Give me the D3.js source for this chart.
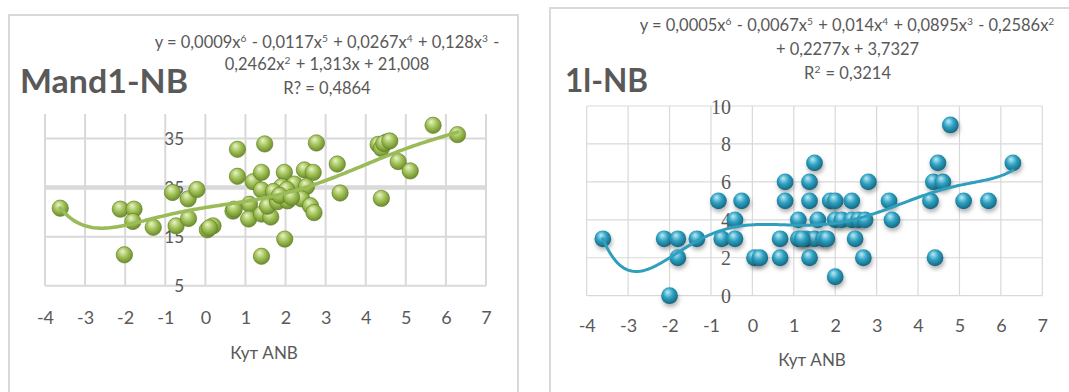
<!DOCTYPE html>
<html>
<head>
<meta charset="utf-8">
<script src="https://cdn.jsdelivr.net/npm/d3@7"></script>
<style>
  body { margin: 0; background: #fff; }
  text { font-family: Lato, "Open Sans", sans-serif; fill: #595959; }
</style>
</head>
<body>
<svg id="chart" width="1069" height="392"></svg>
<script>
// values
const xTicks = [-4, -3, -2, -1, 0, 1, 2, 3, 4, 5, 6, 7];

const mandX = [-3.62, -2.12, -1.78, -1.81, -2.02, -1.30, -0.73, -0.82, -0.43, -0.21, -0.42, 0.05, 0.19,
  0.80, 0.80, 0.69, 1.10, 1.08, 1.19, 1.40, 1.48, 1.40, 1.40, 1.63, 1.55, 1.40, 1.97, 1.98, 1.90, 1.80,
  2.05, 2.22, 2.47, 2.69, 2.52, 2.40, 2.62, 2.71, 2.77, 3.29, 3.36, 4.31, 4.52, 4.39, 4.39, 4.81, 5.11,
  5.68, 6.29, 1.70, 2.03, 1.85, 2.15, 4.45, 4.60, 0.72, 0.10];
const mandY = [20.8, 20.6, 20.6, 18.1, 11.3, 16.9, 17.2, 24.0, 22.7, 24.6, 18.7, 16.4, 17.2,
  32.8, 27.3, 20.2, 21.6, 18.6, 26.2, 28.1, 33.9, 11.0, 19.6, 19.0, 21.2, 24.5, 28.1, 14.5, 25.2, 22.1,
  22.3, 25.7, 28.6, 28.1, 25.2, 22.7, 21.3, 19.9, 34.1, 29.8, 23.9, 33.8, 34.3, 33.0, 22.8, 30.3, 28.4,
  37.7, 35.8, 24.2, 24.6, 23.4, 23.0, 34.0, 34.5, 20.6, 16.8];
const mandYTicks = [5, 15, 25, 35];

const ilX = [-3.61, -2.13, -1.80, -1.80, -2.00, -1.34, -0.82, -0.26, -0.42, -0.74, -0.42, 0.05, 0.18,
  0.67, 0.67, 0.79, 0.79, 1.11, 1.11, 1.30, 1.50, 1.72, 1.38, 1.38, 1.38, 1.50, 1.58, 1.88, 2.00, 2.00,
  2.16, 2.00, 2.40, 2.40, 2.56, 2.72, 2.48, 2.68, 2.80, 3.30, 3.37, 4.30, 4.37, 4.60, 4.48, 4.78, 4.41,
  5.10, 5.70, 6.29, 1.20, 1.80];
const ilY = [3, 3, 3, 2, 0, 3, 5, 5, 4, 3, 3, 2, 2,
  3, 2, 6, 5, 4, 3, 3, 3, 3, 6, 5, 2, 7, 4, 5, 5, 4,
  4, 1, 5, 4, 4, 4, 3, 2, 6, 5, 4, 5, 6, 6, 7, 9, 2,
  5, 5, 7, 3, 3];
const ilYTicks = [0, 2, 4, 6, 8, 10];

const svg = d3.select('#chart');
const defs = svg.append('defs');

function sphere(id, c0, c1, c2) {
  const g = defs.append('radialGradient').attr('id', id)
    .attr('cx', '45%').attr('cy', '40%').attr('r', '60%')
    .attr('fx', '38%').attr('fy', '28%');
  g.append('stop').attr('offset', '0%').attr('stop-color', c0);
  g.append('stop').attr('offset', '50%').attr('stop-color', c1);
  g.append('stop').attr('offset', '100%').attr('stop-color', c2);
}
sphere('ballGreen', '#eaf3cc', '#a4c45a', '#6c8b2c');
sphere('ballBlue', '#bfeaf5', '#2ea2c3', '#17657e');

const shadow = defs.append('filter').attr('id', 'shadow')
  .attr('x', '-50%').attr('y', '-50%').attr('width', '200%').attr('height', '200%');
shadow.append('feDropShadow').attr('dx', 1).attr('dy', 3).attr('stdDeviation', 2)
  .attr('flood-color', '#000').attr('flood-opacity', 0.3);

// least squares polynomial, like the Excel trendline
function polyfit(xs, ys, deg) {
  const m = d3.mean(xs), s = d3.deviation(xs);
  const n = deg + 1;
  const A = [], b = [];
  for (let i = 0; i < n; i++) { A.push(new Array(n).fill(0)); b.push(0); }
  xs.forEach((x, k) => {
    const t = (x - m) / s;
    for (let i = 0; i < n; i++) {
      b[i] += ys[k] * Math.pow(t, i);
      for (let j = 0; j < n; j++) A[i][j] += Math.pow(t, i + j);
    }
  });
  for (let c = 0; c < n; c++) {
    let p = c;
    for (let r = c + 1; r < n; r++) if (Math.abs(A[r][c]) > Math.abs(A[p][c])) p = r;
    [A[c], A[p]] = [A[p], A[c]]; [b[c], b[p]] = [b[p], b[c]];
    for (let r = c + 1; r < n; r++) {
      const f = A[r][c] / A[c][c];
      for (let j = c; j < n; j++) A[r][j] -= f * A[c][j];
      b[r] -= f * b[c];
    }
  }
  const coef = new Array(n).fill(0);
  for (let r = n - 1; r >= 0; r--) {
    let v = b[r];
    for (let j = r + 1; j < n; j++) v -= A[r][j] * coef[j];
    coef[r] = v / A[r][r];
  }
  return x => { const t = (x - m) / s; return coef.reduce((acc, c, i) => acc + c * Math.pow(t, i), 0); };
}

// text with ^n superscripts
function richText(g, str, x, y, size) {
  const t = g.append('text').attr('x', x).attr('y', y).attr('text-anchor', 'middle')
    .style('font-size', size + 'px');
  str.split(/(\^\d)/).forEach(part => {
    if (!part) return;
    if (part[0] === '^') {
      t.append('tspan').attr('dy', -6).style('font-size', (size * 0.62) + 'px').text(part.slice(1));
      t.append('tspan').attr('dy', 6).text('\u200a');
    } else {
      t.append('tspan').text(part);
    }
  });
  return t;
}

function drawPanel(o) {
  const g = svg.append('g');
  g.append('rect').attr('x', o.box[0]).attr('y', o.box[1]).attr('width', o.box[2]).attr('height', o.box[3])
    .attr('fill', '#fff').attr('stroke', '#d9d9d9').attr('stroke-width', 2);

  const x = d3.scaleLinear().domain([-4, 7]).range(o.xr);
  const y = d3.scaleLinear().domain(o.yd).range(o.yr);

  // grid
  g.append('g').selectAll('line').data(xTicks).join('line')
    .attr('x1', d => x(d)).attr('x2', d => x(d)).attr('y1', o.yr[0]).attr('y2', o.yr[1])
    .attr('stroke', '#d9d9d9').attr('stroke-width', o.gridW);
  g.append('g').selectAll('line').data(o.yTicks).join('line')
    .attr('x1', o.xr[0]).attr('x2', o.xr[1]).attr('y1', d => y(d)).attr('y2', d => y(d))
    .attr('stroke', '#d9d9d9').attr('stroke-width', d => d === o.thickAt ? 4.5 : o.gridW);

  // tick labels via d3 axes, no domain/tick lines
  const xa = g.append('g').attr('transform', `translate(0,${o.xLabelY})`)
    .call(d3.axisBottom(x).tickValues(xTicks).tickSize(0).tickFormat(d => String(d)));
  xa.select('.domain').remove();
  xa.selectAll('text').attr('dy', 0).attr('y', 0).style('font-size', '18px')
    .style('font-family', 'Lato, sans-serif').attr('fill', '#595959');

  const ya = g.append('g').attr('transform', `translate(${o.yLabelX},0)`)
    .call(d3.axisLeft(y).tickValues(o.yTicks).tickSize(0).tickPadding(0).tickFormat(d => String(d)));
  ya.select('.domain').remove();
  ya.selectAll('text').style('font-size', o.yFont.size + 'px').style('font-family', o.yFont.family)
    .attr('fill', '#595959').attr('dy', '0.35em');

  // points
  const pts = o.xs.map((v, i) => [v, o.ys[i]]);
  g.append('g').selectAll('circle').data(pts).join('circle')
    .attr('cx', d => x(d[0])).attr('cy', d => y(d[1])).attr('r', o.r)
    .attr('fill', `url(#${o.ball})`)
    .attr('stroke', o.ballStroke).attr('stroke-width', 0.6)
    .attr('filter', o.shadow ? 'url(#shadow)' : null);

  // trendline
  const f = polyfit(o.xs, o.ys, 6);
  const x0 = d3.min(o.xs), x1 = d3.max(o.xs);
  const xsLine = d3.range(0, 201).map(i => x0 + (x1 - x0) * i / 200);
  g.append('path').datum(xsLine)
    .attr('d', d3.line().x(d => x(d)).y(d => y(f(d))))
    .attr('fill', 'none').attr('stroke', o.lineColor).attr('stroke-width', o.lineW)
    .attr('stroke-linecap', 'round');

  // title
  g.append('text').attr('x', o.title.x).attr('y', o.title.y).text(o.title.text)
    .style('font-size', '32px').style('font-weight', 'bold')
    .attr('textLength', o.title.w).attr('lengthAdjust', 'spacingAndGlyphs');

  // equation
  o.eq.forEach((line, i) => richText(g, line, o.eqX, o.eqY[i], 16.5));

  g.append('text').attr('x', o.axTitle[0]).attr('y', o.axTitle[1]).attr('text-anchor', 'middle')
    .style('font-size', '17px').text('Кут ANB');
}

drawPanel({
  box: [9, 15, 509, 400],
  xr: [45, 486], yd: [5, 40], yr: [285.7, 114],
  yTicks: mandYTicks, thickAt: 25, gridW: 2,
  xLabelY: 324, yLabelX: 184,
  yFont: { size: 17, family: 'Lato, sans-serif' },
  xs: mandX, ys: mandY, r: 8.2, ball: 'ballGreen', ballStroke: '#5d7d22', shadow: false,
  lineColor: '#9bbb59', lineW: 3.6,
  title: { x: 20, y: 93, text: 'Mand1-NB', w: 168 },
  eq: ['y = 0,0009x^6 - 0,0117x^5 + 0,0267x^4 + 0,128x^3 -', '0,2462x^2 + 1,313x + 21,008', 'R? = 0,4864'],
  eqX: 327, eqY: [47.5, 69.5, 93.5],
  axTitle: [264, 359]
});

drawPanel({
  box: [550, 8, 530, 400],
  xr: [586.7, 1042.3], yd: [0, 10], yr: [295.7, 106],
  yTicks: ilYTicks, thickAt: null, gridW: 1.2,
  xLabelY: 332, yLabelX: 731,
  yFont: { size: 20, family: '"Liberation Serif", serif' },
  xs: ilX, ys: ilY, r: 8.4, ball: 'ballBlue', ballStroke: 'none', shadow: true,
  lineColor: '#2f9fbd', lineW: 3,
  title: { x: 565, y: 92, text: '1l-NB', w: 83 },
  eq: ['y = 0,0005x^6 - 0,0067x^5 + 0,014x^4 + 0,0895x^3 - 0,2586x^2', '+ 0,2277x + 3,7327', 'R^2 = 0,3214'],
  eqX: 847.5, eqY: [31, 55, 79],
  axTitle: [812, 366]
});
</script>
</body>
</html>
